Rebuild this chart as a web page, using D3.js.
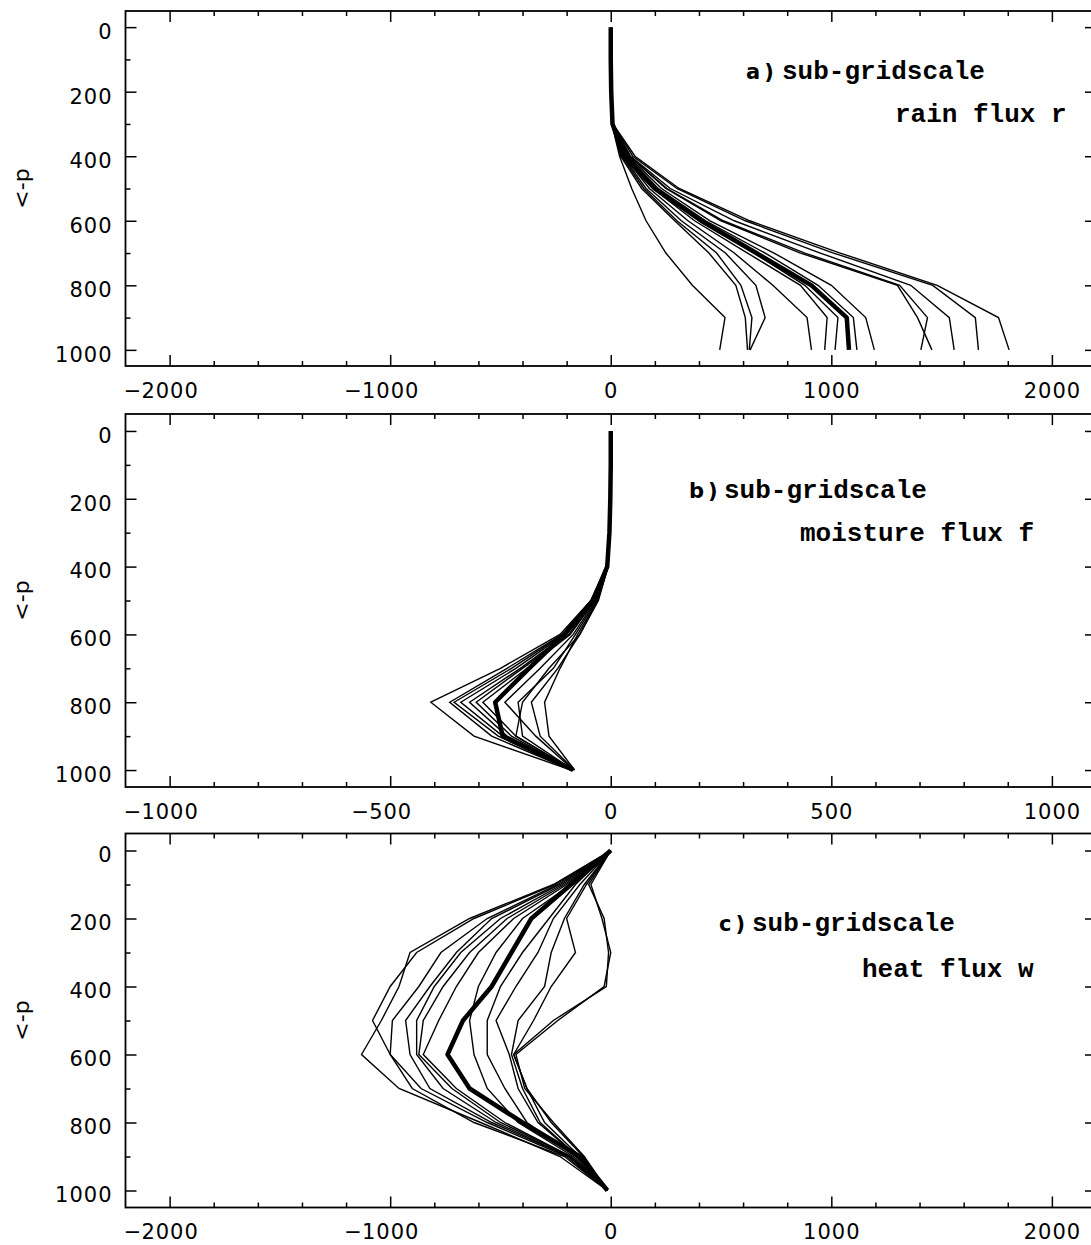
<!DOCTYPE html>
<html>
<head>
<meta charset="utf-8">
<script src="https://cdn.jsdelivr.net/npm/d3@7"></script>
<style>
  html, body { margin: 0; padding: 0; background: #fff; }
  svg { display: block; }
  .tick text { font-family: "DejaVu Sans", sans-serif; font-size: 21px; letter-spacing: 1px; fill: #000; }
  .minus { font-family: "DejaVu Sans", sans-serif; font-size: 21px; fill: #000; }
  .ylab { font-family: "DejaVu Sans", sans-serif; font-size: 22px; fill: #000; }
  .tag { font-family: "DejaVu Sans", sans-serif; font-weight: bold; font-size: 21px; letter-spacing: 4px; fill: #000; }
  .ttl { font-family: "Liberation Mono", "Courier New", monospace; font-weight: bold; font-size: 26px; fill: #000; }
</style>
</head>
<body>
<svg id="chart" width="1091" height="1245"></svg>
<script>
// Pressure levels (hPa) at which every profile is given
const levels = [0, 100, 200, 300, 400, 500, 600, 700, 800, 900, 1000];

// Tick values
const pressureMajor = [0, 200, 400, 600, 800, 1000];
const pressureMinor = [100, 300, 500, 700, 900];
const fluxMajorWide = [-2000, -1000, 0, 1000, 2000];
const fluxMajorNarrow = [-1000, -500, 0, 500, 1000];

// a) sub-gridscale rain flux r : individual profiles and their mean
const rainProfiles = [
  [0, 0, 0, 5, 40, 95, 160, 250, 370, 518, 494],
  [0, 0, 0, 5, 45, 140, 290, 445, 567, 610, 620],
  [0, 0, 0, 5, 50, 150, 300, 480, 590, 640, 628],
  [0, 0, 0, 6, 55, 160, 320, 520, 658, 700, 632],
  [0, 0, 0, 6, 60, 175, 350, 560, 735, 890, 910],
  [0, 0, 0, 6, 65, 190, 380, 620, 860, 981, 970],
  [0, 0, 0, 7, 70, 200, 400, 650, 880, 1030, 1017],
  [0, 0, 0, 7, 75, 215, 430, 700, 940, 1100, 1116],
  [0, 0, 0, 8, 80, 230, 450, 740, 1000, 1156, 1195],
  [0, 0, 0, 8, 85, 250, 500, 860, 1300, 1391, 1456],
  [0, 0, 0, 8, 85, 255, 510, 880, 1310, 1436, 1406],
  [0, 0, 0, 9, 90, 270, 560, 950, 1360, 1535, 1557],
  [0, 0, 0, 10, 100, 300, 610, 1010, 1460, 1653, 1667],
  [0, 0, 0, 10, 110, 310, 630, 1040, 1480, 1758, 1806]
];
const rainMean = [0, 0, 2, 8, 60, 200, 410, 660, 910, 1070, 1080];

// b) sub-gridscale moisture flux f
const moistureProfiles = [
  [0, 0, -1, -3, -10, -45, -115, -250, -408, -310, -90],
  [0, 0, -1, -3, -10, -45, -110, -235, -365, -270, -90],
  [0, 0, -1, -3, -9, -42, -108, -225, -355, -255, -88],
  [0, 0, -1, -3, -9, -40, -105, -215, -340, -245, -88],
  [0, 0, -1, -3, -8, -40, -100, -205, -320, -235, -86],
  [0, 0, -1, -3, -8, -38, -95, -200, -305, -225, -86],
  [0, 0, -1, -3, -8, -36, -92, -190, -290, -215, -85],
  [0, 0, -1, -2, -7, -32, -80, -130, -210, -200, -85],
  [0, 0, -1, -2, -6, -30, -75, -115, -150, -140, -82],
  [0, 0, -1, -2, -6, -28, -70, -120, -180, -160, -82],
  [0, 0, -1, -2, -7, -34, -85, -160, -240, -170, -84],
  [0, 0, -1, -2, -6, -30, -70, -140, -200, -215, -85]
];
const moistureMean = [0, 0, -1, -3, -8, -40, -105, -185, -262, -245, -85];

// c) sub-gridscale heat flux w
const heatProfiles = [
  [0, -260, -640, -910, -960, -1040, -1130, -960, -590, -230, -15],
  [0, -250, -620, -880, -1000, -1080, -1000, -900, -620, -210, -15],
  [0, -240, -560, -770, -870, -990, -1000, -860, -560, -200, -15],
  [0, -230, -540, -700, -820, -930, -910, -820, -540, -190, -15],
  [0, -220, -500, -680, -800, -880, -880, -760, -520, -190, -15],
  [0, -210, -470, -640, -760, -850, -870, -720, -500, -180, -15],
  [0, -200, -440, -600, -700, -780, -850, -700, -480, -180, -15],
  [0, -180, -400, -520, -600, -640, -620, -560, -420, -170, -15],
  [0, -160, -280, -400, -500, -560, -560, -480, -380, -160, -15],
  [0, -140, -260, -330, -430, -520, -460, -420, -330, -150, -15],
  [0, -120, -210, -270, -300, -420, -450, -400, -320, -150, -15],
  [0, -110, -200, -160, -270, -350, -440, -380, -300, -140, -15],
  [0, -90, -40, 0, -30, -240, -430, -390, -260, -120, -15],
  [0, -100, -30, -10, -20, -260, -440, -380, -270, -125, -15]
];
const heatMean = [0, -180, -360, -450, -540, -670, -740, -640, -400, -140, -15];

// Layout of the three stacked panels
const frameLeft = 125.5, frameRight = 1096;
const panels = [
  { top: 11, bottom: 366, half: 2200, major: fluxMajorWide, minorStep: 200,
    thin: rainProfiles, mean: rainMean,
    tag: "a)", title1: "sub-gridscale", title2: "rain flux r",
    tagX: 746, t1X: 782, t1Y: 79, t2X: 895, t2Y: 122 },
  { top: 414, bottom: 787, half: 1100, major: fluxMajorNarrow, minorStep: 100,
    thin: moistureProfiles, mean: moistureMean,
    tag: "b)", title1: "sub-gridscale", title2: "moisture flux f",
    tagX: 689, t1X: 724, t1Y: 498, t2X: 800, t2Y: 541 },
  { top: 833.5, bottom: 1207.5, half: 2200, major: fluxMajorWide, minorStep: 200,
    thin: heatProfiles, mean: heatMean,
    tag: "c)", title1: "sub-gridscale", title2: "heat flux w",
    tagX: 719, t1X: 752, t1Y: 931, t2X: 862, t2Y: 977 }
];

const svg = d3.select("#chart");

panels.forEach(P => {
  const x = d3.scaleLinear().domain([-P.half, P.half]).range([frameLeft, frameRight]);
  const y = d3.scaleLinear().domain([-50, 1050]).range([P.top, P.bottom]);
  const g = svg.append("g");

  const minorX = d3.range(-P.half, P.half + 1, P.minorStep).filter(v => !P.major.includes(v) && Math.abs(v) < P.half);

  // Bottom axis: long labelled ticks plus short ticks, all pointing inward
  const bottom = g.append("g").attr("transform", `translate(0,${P.bottom})`);
  bottom.append("g").call(d3.axisBottom(x).tickValues(minorX).tickSize(-5).tickFormat(""));
  const bMaj = bottom.append("g").call(d3.axisBottom(x).tickValues(P.major).tickSize(-11).tickPadding(17)
      .tickFormat(d => String(Math.abs(d))));
  bMaj.selectAll(".tick").each(function (d) {
    if (d < 0) {
      const t = d3.select(this).select("text");
      const w = t.node().getComputedTextLength();
      d3.select(this).append("text").attr("class", "minus")
        .attr("x", -w / 2 + 1).attr("y", 17).attr("dy", "0.71em")
        .attr("text-anchor", "end").text("\u2212");
    }
  });

  // Top axis: unlabelled ticks
  const topAx = g.append("g").attr("transform", `translate(0,${P.top})`);
  topAx.append("g").call(d3.axisTop(x).tickValues(minorX).tickSize(-5).tickFormat(""));
  topAx.append("g").call(d3.axisTop(x).tickValues(P.major).tickSize(-11).tickFormat(""));

  // Left axis: pressure labels
  const left = g.append("g").attr("transform", `translate(${frameLeft},0)`);
  left.append("g").call(d3.axisLeft(y).tickValues(pressureMinor).tickSize(-5).tickFormat(""));
  left.append("g").call(d3.axisLeft(y).tickValues(pressureMajor).tickSize(-11).tickPadding(13)
      .tickFormat(d3.format("d")))
    .selectAll("text").attr("dy", "0.54em");

  // Right axis: unlabelled ticks
  const right = g.append("g").attr("transform", `translate(${frameRight},0)`);
  right.append("g").call(d3.axisRight(y).tickValues(pressureMinor).tickSize(-5).tickFormat(""));
  right.append("g").call(d3.axisRight(y).tickValues(pressureMajor).tickSize(-11).tickFormat(""));

  g.selectAll(".domain").remove();
  g.selectAll(".tick line").attr("stroke", "#000").attr("stroke-width", 1.5);

  // Frame
  g.append("rect")
    .attr("x", frameLeft).attr("y", P.top)
    .attr("width", frameRight - frameLeft).attr("height", P.bottom - P.top)
    .attr("fill", "none").attr("stroke", "#000").attr("stroke-width", 1.8);

  // Profiles
  const line = d3.line().x(d => x(d)).y((d, i) => y(levels[i]));
  g.append("g").selectAll("path").data(P.thin).join("path")
    .attr("d", line).attr("fill", "none").attr("stroke", "#000")
    .attr("stroke-width", 1.4).attr("stroke-linejoin", "miter");
  g.append("path").datum(P.mean)
    .attr("d", line).attr("fill", "none").attr("stroke", "#000")
    .attr("stroke-width", 4.5).attr("stroke-linejoin", "round");

  // Axis title
  g.append("text").attr("class", "ylab")
    .attr("transform", `translate(29,${(P.top + P.bottom) / 2}) rotate(-90)`)
    .attr("text-anchor", "middle").text("<-p");

  // Panel annotation
  g.append("text").attr("class", "tag").attr("x", P.tagX).attr("y", P.t1Y).text(P.tag);
  g.append("text").attr("class", "ttl").attr("x", P.t1X).attr("y", P.t1Y).text(P.title1);
  g.append("text").attr("class", "ttl").attr("x", P.t2X).attr("y", P.t2Y).text(P.title2);
});
</script>
</body>
</html>
